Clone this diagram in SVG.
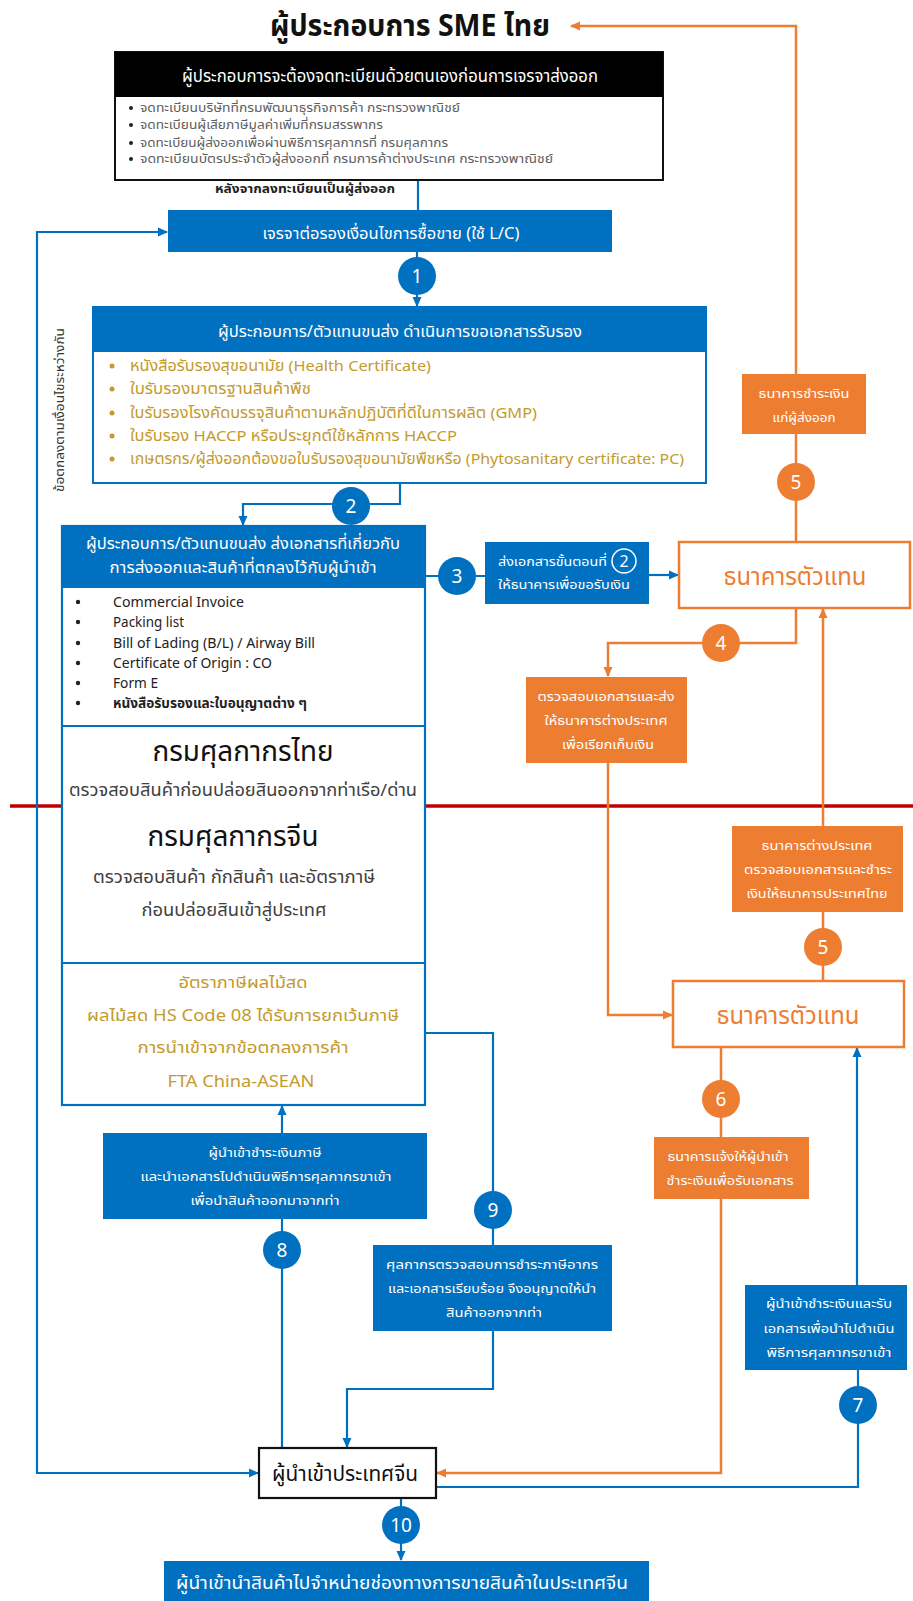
<svg xmlns="http://www.w3.org/2000/svg" width="913" height="1601" viewBox="0 0 913 1601">
<style>
text{font-family:"Noto Sans Thai","Noto Sans","Liberation Sans",sans-serif}
.w{fill:#fff}
.c{text-anchor:middle}
.blue{fill:#0070C0}
.org{fill:#ED7D31}
.bl{fill:none;stroke:#0070C0;stroke-width:2.2}
.ol{fill:none;stroke:#ED7D31;stroke-width:2.5}
.gray{fill:#606060}
.gold{fill:#C49A2C}
.num{fill:#fff;font-size:19px;text-anchor:middle}
</style>
<defs>
<marker id="ab" markerUnits="userSpaceOnUse" markerWidth="10" markerHeight="10" refX="9" refY="5" orient="auto"><path d="M0,0.5 L10,5 L0,9.5 z" fill="#0070C0"/></marker>
<marker id="ao" markerUnits="userSpaceOnUse" markerWidth="10" markerHeight="10" refX="9" refY="5" orient="auto"><path d="M0,0.5 L10,5 L0,9.5 z" fill="#ED7D31"/></marker>
</defs>

<line x1="10" y1="806" x2="913" y2="806" stroke="#C00000" stroke-width="3.5"/>

<g id="connectors">
<line class="bl" x1="418" y1="180" x2="418" y2="210"/>
<line class="bl" x1="417" y1="252" x2="417" y2="306" marker-end="url(#ab)"/>
<polyline class="bl" points="400,483 400,504 243,504 243,525" marker-end="url(#ab)"/>
<line class="bl" x1="426" y1="576" x2="485" y2="576"/>
<line class="bl" x1="649" y1="575" x2="678" y2="575" marker-end="url(#ab)"/>
<polyline class="bl" points="259,1473 37,1473 37,232 167,232" marker-end="url(#ab)"/>
<line class="bl" x1="37" y1="1473" x2="258" y2="1473" marker-end="url(#ab)"/>
<line class="bl" x1="282" y1="1448" x2="282" y2="1219"/>
<line class="bl" x1="282" y1="1133" x2="282" y2="1106" marker-end="url(#ab)"/>
<polyline class="bl" points="425,1033 493,1033 493,1245"/>
<polyline class="bl" points="493,1331 493,1389 347,1389 347,1447" marker-end="url(#ab)"/>
<polyline class="bl" points="436,1487 858,1487 858,1370"/>
<line class="bl" x1="857" y1="1285" x2="857" y2="1048" marker-end="url(#ab)"/>
<line class="bl" x1="401" y1="1498" x2="401" y2="1560" marker-end="url(#ab)"/>

<polyline class="ol" points="796,374 796,26 571,26" marker-end="url(#ao)"/>
<line class="ol" x1="796" y1="542" x2="796" y2="434"/>
<polyline class="ol" points="796,608 796,643 608,643 608,676" marker-end="url(#ao)"/>
<polyline class="ol" points="608,763 608,1015 672,1015" marker-end="url(#ao)"/>
<line class="ol" x1="823" y1="826" x2="823" y2="609" marker-end="url(#ao)"/>
<line class="ol" x1="823" y1="912" x2="823" y2="981"/>
<line class="ol" x1="721" y1="1047" x2="721" y2="1137"/>
<polyline class="ol" points="721,1199 721,1473 437,1473" marker-end="url(#ao)"/>

<g id="labels">
<circle cx="417" cy="276" r="19" class="blue"/><text x="417" y="283" class="num">1</text>
<circle cx="351" cy="506" r="19" class="blue"/><text x="351" y="513" class="num">2</text>
<circle cx="457" cy="576" r="19" class="blue"/><text x="457" y="583" class="num">3</text>
<circle cx="721" cy="643" r="19" class="org"/><text x="721" y="650" class="num">4</text>
<circle cx="796" cy="482" r="19" class="org"/><text x="796" y="489" class="num">5</text>
<circle cx="823" cy="947" r="19" class="org"/><text x="823" y="954" class="num">5</text>
<circle cx="721" cy="1099" r="19" class="org"/><text x="721" y="1106" class="num">6</text>
<circle cx="858" cy="1405" r="19" class="blue"/><text x="858" y="1412" class="num">7</text>
<circle cx="282" cy="1250" r="19" class="blue"/><text x="282" y="1257" class="num">8</text>
<circle cx="493" cy="1210" r="19" class="blue"/><text x="493" y="1217" class="num">9</text>
<circle cx="401" cy="1525" r="19" class="blue"/><text x="401" y="1532" class="num">10</text>
<text x="305" y="193" class="c" font-size="13" font-weight="bold" fill="#222" textLength="180" lengthAdjust="spacingAndGlyphs">หลังจากลงทะเบียนเป็นผู้ส่งออก</text>
<text transform="translate(64,410) rotate(-90)" class="c" font-size="12" fill="#333" textLength="164" lengthAdjust="spacingAndGlyphs">ข้อตกลงตามเงื่อนไขระหว่างกัน</text>
</g>
</g>

<g id="title">
<text x="410" y="36" class="c" font-size="30" font-weight="bold" fill="#111" textLength="280" lengthAdjust="spacingAndGlyphs">ผู้ประกอบการ SME ไทย</text>
</g>

<g id="register">
<rect x="115" y="52" width="548" height="128" fill="#fff" stroke="#111" stroke-width="2"/>
<rect x="115" y="52" width="548" height="45" fill="#000"/>
<text x="390" y="82" class="c w" font-size="17" textLength="416" lengthAdjust="spacingAndGlyphs">ผู้ประกอบการจะต้องจดทะเบียนด้วยตนเองก่อนการเจรจาส่งออก</text>
<g font-size="12" class="gray">
<circle cx="131" cy="108" r="2" fill="#222"/><text x="140" y="112" textLength="320" lengthAdjust="spacingAndGlyphs">จดทะเบียนบริษัทที่กรมพัฒนาธุรกิจการค้า กระทรวงพาณิชย์</text>
<circle cx="131" cy="125" r="2" fill="#222"/><text x="140" y="129" textLength="243" lengthAdjust="spacingAndGlyphs">จดทะเบียนผู้เสียภาษีมูลค่าเพิ่มที่กรมสรรพากร</text>
<circle cx="131" cy="143" r="2" fill="#222"/><text x="140" y="147" textLength="308" lengthAdjust="spacingAndGlyphs">จดทะเบียนผู้ส่งออกเพื่อผ่านพิธีการศุลกากรที่ กรมศุลกากร</text>
<circle cx="131" cy="159" r="2" fill="#222"/><text x="140" y="163" textLength="413" lengthAdjust="spacingAndGlyphs">จดทะเบียนบัตรประจำตัวผู้ส่งออกที่ กรมการค้าต่างประเทศ กระทรวงพาณิชย์</text>
</g>
</g>

<g id="negotiate">
<rect x="168" y="210" width="444" height="42" class="blue"/>
<text x="391" y="239" class="c w" font-size="16" textLength="257" lengthAdjust="spacingAndGlyphs">เจรจาต่อรองเงื่อนไขการซื้อขาย (ใช้ L/C)</text>
</g>

<g id="certificates">
<rect x="93" y="307" width="613" height="176" fill="#fff" stroke="#0070C0" stroke-width="2"/>
<rect x="93" y="307" width="613" height="45" class="blue"/>
<text x="400" y="337" class="c w" font-size="16" textLength="364" lengthAdjust="spacingAndGlyphs">ผู้ประกอบการ/ตัวแทนขนส่ง ดำเนินการขอเอกสารรับรอง</text>
<g font-size="15" class="gold">
<circle cx="112" cy="366" r="2.5"/><text x="130" y="371" textLength="301" lengthAdjust="spacingAndGlyphs">หนังสือรับรองสุขอนามัย (Health Certificate)</text>
<circle cx="112" cy="389" r="2.5"/><text x="130" y="394" textLength="181" lengthAdjust="spacingAndGlyphs">ใบรับรองมาตรฐานสินค้าพืช</text>
<circle cx="112" cy="413" r="2.5"/><text x="130" y="418" textLength="407" lengthAdjust="spacingAndGlyphs">ใบรับรองโรงคัดบรรจุสินค้าตามหลักปฏิบัติที่ดีในการผลิต (GMP)</text>
<circle cx="112" cy="436" r="2.5"/><text x="130" y="441" textLength="327" lengthAdjust="spacingAndGlyphs">ใบรับรอง HACCP หรือประยุกต์ใช้หลักการ HACCP</text>
<circle cx="112" cy="459" r="2.5"/><text x="130" y="464" textLength="554" lengthAdjust="spacingAndGlyphs">เกษตรกร/ผู้ส่งออกต้องขอใบรับรองสุขอนามัยพืชหรือ (Phytosanitary certificate: PC)</text>
</g>
</g>

<g id="documents">
<rect x="62" y="526" width="363" height="579" fill="#fff" stroke="#0070C0" stroke-width="2.2"/>
<rect x="62" y="526" width="363" height="62" class="blue"/>
<text x="243" y="549" class="c w" font-size="16" textLength="314" lengthAdjust="spacingAndGlyphs">ผู้ประกอบการ/ตัวแทนขนส่ง ส่งเอกสารที่เกี่ยวกับ</text>
<text x="243" y="573" class="c w" font-size="16" textLength="267" lengthAdjust="spacingAndGlyphs">การส่งออกและสินค้าที่ตกลงไว้กับผู้นำเข้า</text>
<g font-size="14" fill="#222">
<circle cx="78" cy="602" r="2.2"/><text x="113" y="607" textLength="131" lengthAdjust="spacingAndGlyphs">Commercial Invoice</text>
<circle cx="78" cy="622" r="2.2"/><text x="113" y="627" textLength="71" lengthAdjust="spacingAndGlyphs">Packing list</text>
<circle cx="78" cy="643" r="2.2"/><text x="113" y="648" textLength="202" lengthAdjust="spacingAndGlyphs">Bill of Lading (B/L) / Airway Bill</text>
<circle cx="78" cy="663" r="2.2"/><text x="113" y="668" textLength="159" lengthAdjust="spacingAndGlyphs">Certificate of Origin : CO</text>
<circle cx="78" cy="683" r="2.2"/><text x="113" y="688" textLength="45" lengthAdjust="spacingAndGlyphs">Form E</text>
<circle cx="78" cy="703" r="2.2"/><text x="113" y="708" font-weight="bold" textLength="194" lengthAdjust="spacingAndGlyphs">หนังสือรับรองและใบอนุญาตต่าง  ๆ</text>
</g>
<line x1="62" y1="726" x2="425" y2="726" stroke="#0070C0" stroke-width="2"/>
<text x="243" y="761" class="c" font-size="28" fill="#111" textLength="181" lengthAdjust="spacingAndGlyphs">กรมศุลกากรไทย</text>
<text x="243" y="796" class="c" font-size="17" fill="#404040" textLength="348" lengthAdjust="spacingAndGlyphs">ตรวจสอบสินค้าก่อนปล่อยสินออกจากท่าเรือ/ด่าน</text>
<text x="233" y="846" class="c" font-size="28" fill="#111" textLength="171" lengthAdjust="spacingAndGlyphs">กรมศุลกากรจีน</text>
<text x="234" y="883" class="c" font-size="17" fill="#404040" textLength="282" lengthAdjust="spacingAndGlyphs">ตรวจสอบสินค้า กักสินค้า และอัตราภาษี</text>
<text x="234" y="916" class="c" font-size="17" fill="#404040" textLength="185" lengthAdjust="spacingAndGlyphs">ก่อนปล่อยสินเข้าสู่ประเทศ</text>
<line x1="62" y1="963" x2="425" y2="963" stroke="#0070C0" stroke-width="2"/>
<g font-size="16" class="gold c">
<text x="243" y="988" textLength="129" lengthAdjust="spacingAndGlyphs">อัตราภาษีผลไม้สด</text>
<text x="243" y="1021" textLength="312" lengthAdjust="spacingAndGlyphs">ผลไม้สด HS Code 08 ได้รับการยกเว้นภาษี</text>
<text x="243" y="1053" textLength="211" lengthAdjust="spacingAndGlyphs">การนำเข้าจากข้อตกลงการค้า</text>
<text x="241" y="1087" textLength="147" lengthAdjust="spacingAndGlyphs">FTA China-ASEAN</text>
</g>
</g>

<g id="send-docs">
<rect x="485" y="542" width="164" height="62" class="blue"/>
<text x="498" y="566" class="w" font-size="13" textLength="109" lengthAdjust="spacingAndGlyphs">ส่งเอกสารขั้นตอนที่</text>
<circle cx="624" cy="561" r="12" fill="none" stroke="#fff" stroke-width="1.5"/>
<text x="624" y="567" class="w c" font-size="16">2</text>
<text x="498" y="589" class="w" font-size="13" textLength="132" lengthAdjust="spacingAndGlyphs">ให้ธนาคารเพื่อขอรับเงิน</text>
</g>

<g id="bank-th">
<rect x="679" y="542" width="231" height="66" fill="#fff" stroke="#ED7D31" stroke-width="2.5"/>
<text x="795" y="585" class="c org" font-size="24" textLength="143" lengthAdjust="spacingAndGlyphs">ธนาคารตัวแทน</text>
</g>

<g id="pay-exporter">
<rect x="742" y="374" width="124" height="60" class="org"/>
<text x="804" y="398" class="c w" font-size="13" textLength="91" lengthAdjust="spacingAndGlyphs">ธนาคารชำระเงิน</text>
<text x="804" y="422" class="c w" font-size="13" textLength="63" lengthAdjust="spacingAndGlyphs">แก่ผู้ส่งออก</text>
</g>

<g id="check-docs">
<rect x="526" y="677" width="161" height="86" class="org"/>
<text x="606" y="701" class="c w" font-size="13" textLength="137" lengthAdjust="spacingAndGlyphs">ตรวจสอบเอกสารและส่ง</text>
<text x="606" y="725" class="c w" font-size="13" textLength="123" lengthAdjust="spacingAndGlyphs">ให้ธนาคารต่างประเทศ</text>
<text x="608" y="749" class="c w" font-size="13" textLength="92" lengthAdjust="spacingAndGlyphs">เพื่อเรียกเก็บเงิน</text>
</g>

<g id="foreign-bank">
<rect x="732" y="826" width="171" height="86" class="org"/>
<text x="817" y="850" class="c w" font-size="13" textLength="111" lengthAdjust="spacingAndGlyphs">ธนาคารต่างประเทศ</text>
<text x="818" y="874" class="c w" font-size="13" textLength="148" lengthAdjust="spacingAndGlyphs">ตรวจสอบเอกสารและชำระ</text>
<text x="817" y="898" class="c w" font-size="13" textLength="141" lengthAdjust="spacingAndGlyphs">เงินให้ธนาคารประเทศไทย</text>
</g>

<g id="bank-cn">
<rect x="673" y="981" width="231" height="66" fill="#fff" stroke="#ED7D31" stroke-width="2.5"/>
<text x="788" y="1024" class="c org" font-size="24" textLength="143" lengthAdjust="spacingAndGlyphs">ธนาคารตัวแทน</text>
</g>

<g id="notify">
<rect x="654" y="1137" width="155" height="62" class="org"/>
<text x="728" y="1161" class="c w" font-size="13" textLength="121" lengthAdjust="spacingAndGlyphs">ธนาคารแจ้งให้ผู้นำเข้า</text>
<text x="730" y="1185" class="c w" font-size="13" textLength="127" lengthAdjust="spacingAndGlyphs">ชำระเงินเพื่อรับเอกสาร</text>
</g>

<g id="importer-pay">
<rect x="745" y="1285" width="162" height="85" class="blue"/>
<text x="829" y="1308" class="c w" font-size="13" textLength="126" lengthAdjust="spacingAndGlyphs">ผู้นำเข้าชำระเงินและรับ</text>
<text x="829" y="1333" class="c w" font-size="13" textLength="131" lengthAdjust="spacingAndGlyphs">เอกสารเพื่อนำไปดำเนิน</text>
<text x="829" y="1357" class="c w" font-size="13" textLength="125" lengthAdjust="spacingAndGlyphs">พิธีการศุลกากรขาเข้า</text>
</g>

<g id="tax-pay">
<rect x="103" y="1133" width="324" height="86" class="blue"/>
<text x="265" y="1157" class="c w" font-size="13" textLength="113" lengthAdjust="spacingAndGlyphs">ผู้นำเข้าชำระเงินภาษี</text>
<text x="266" y="1181" class="c w" font-size="13" textLength="251" lengthAdjust="spacingAndGlyphs">และนำเอกสารไปดำเนินพิธีการศุลกากรขาเข้า</text>
<text x="265" y="1205" class="c w" font-size="13" textLength="149" lengthAdjust="spacingAndGlyphs">เพื่อนำสินค้าออกมาจากท่า</text>
</g>

<g id="customs-ok">
<rect x="373" y="1245" width="239" height="86" class="blue"/>
<text x="492" y="1269" class="c w" font-size="13" textLength="212" lengthAdjust="spacingAndGlyphs">ศุลกากรตรวจสอบการชำระภาษีอากร</text>
<text x="492" y="1293" class="c w" font-size="13" textLength="208" lengthAdjust="spacingAndGlyphs">และเอกสารเรียบร้อย จึงอนุญาตให้นำ</text>
<text x="494" y="1317" class="c w" font-size="13" textLength="96" lengthAdjust="spacingAndGlyphs">สินค้าออกจากท่า</text>
</g>

<g id="importer">
<rect x="259" y="1448" width="177" height="50" fill="#fff" stroke="#111" stroke-width="2.2"/>
<text x="345" y="1481" class="c" font-size="22" fill="#111" textLength="146" lengthAdjust="spacingAndGlyphs">ผู้นำเข้าประเทศจีน</text>
</g>

<g id="distribute">
<rect x="164" y="1561" width="485" height="40" class="blue"/>
<text x="402" y="1589" class="c w" font-size="18" textLength="452" lengthAdjust="spacingAndGlyphs">ผู้นำเข้านำสินค้าไปจำหน่ายช่องทางการขายสินค้าในประเทศจีน</text>
</g>
</svg>
